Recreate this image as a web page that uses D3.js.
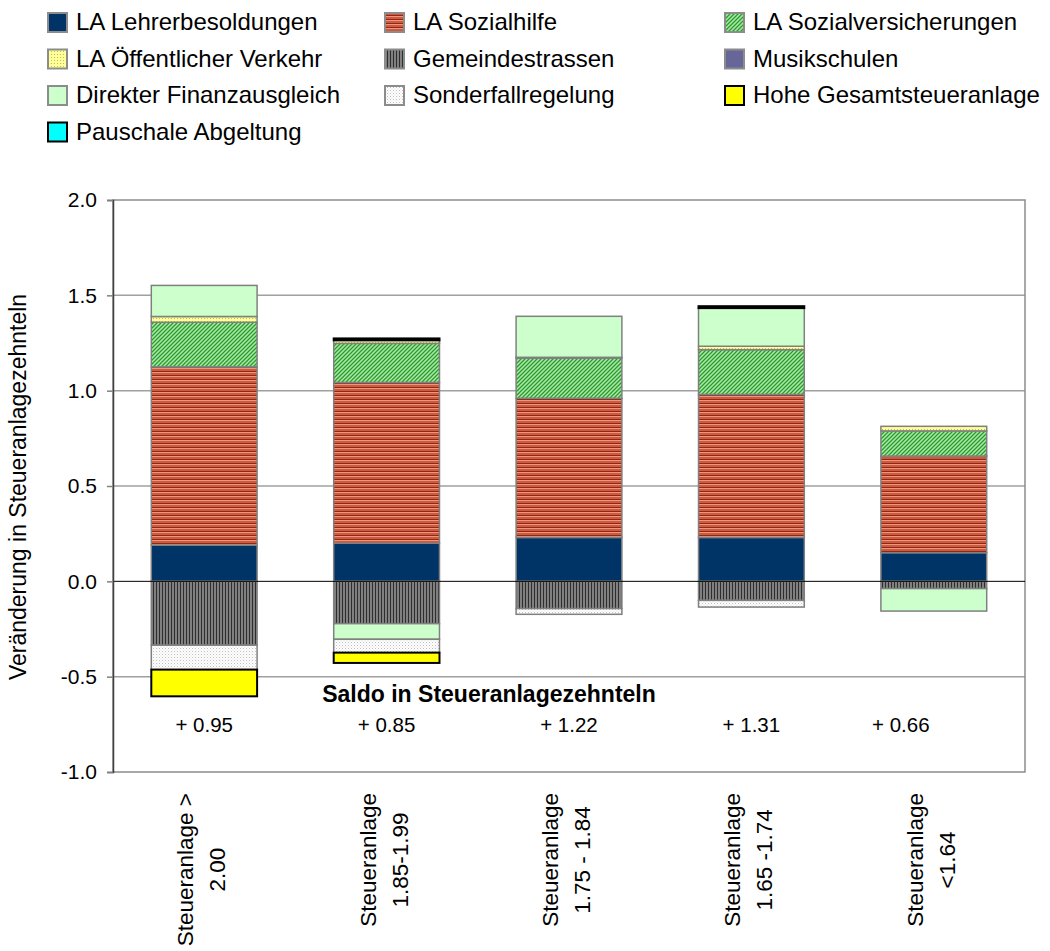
<!DOCTYPE html>
<html>
<head>
<meta charset="utf-8">
<script src="https://cdn.jsdelivr.net/npm/d3@7"></script>
<style>
  html, body { margin: 0; padding: 0; background: #fff; }
  svg { display: block; font-family: "Liberation Sans", Arial, sans-serif; }
</style>
</head>
<body>
<svg id="chart" width="1050" height="951"></svg>
<script>
// Categories (tax rate groups), two text lines each
const categories = ["g1", "g2", "g3", "g4", "g5"];
const categoryLines = [
  ["Steueranlage >", "2.00"],
  ["Steueranlage", "1.85-1.99"],
  ["Steueranlage", "1.75 - 1.84"],
  ["Steueranlage", "1.65 -1.74"],
  ["Steueranlage", "<1.64"]
];

// Component names in stacking order
const seriesNames = [
  "LA Lehrerbesoldungen",
  "LA Sozialhilfe",
  "LA Sozialversicherungen",
  "LA Öffentlicher Verkehr",
  "Gemeindestrassen",
  "Musikschulen",
  "Direkter Finanzausgleich",
  "Sonderfallregelung",
  "Hohe Gesamtsteueranlage",
  "Pauschale Abgeltung"
];

// Change in tenths of the tax rate, per component and group
const lehrer      = [0.19, 0.20, 0.23, 0.23, 0.15];
const sozialhilfe = [0.935, 0.843, 0.73, 0.75, 0.507];
const sozialvers  = [0.234, 0.205, 0.21, 0.235, 0.132];
const oev         = [0.03, 0.016, 0.005, 0.018, 0.024];
const strassen    = [-0.335, -0.222, -0.143, -0.10, -0.038];
const musik       = [0, 0, 0, 0, 0];
const direkt      = [0.163, -0.082, 0.215, 0.20, -0.118];
const sonderfall  = [-0.128, -0.07, -0.03, -0.035, 0];
const hohe        = [-0.14, -0.054, 0, 0, 0];
const pauschale   = [0, 0.01, 0, 0.01, 0];

// Net balance per group
const saldoLabels = ["+ 0.95", "+ 0.85", "+ 1.22", "+ 1.31", "+ 0.66"];

const yTicks = [-1.0, -0.5, 0.0, 0.5, 1.0, 1.5, 2.0];

const seriesValues = [lehrer, sozialhilfe, sozialvers, oev, strassen, musik, direkt, sonderfall, hohe, pauschale];

const svg = d3.select("#chart");
const defs = svg.append("defs");

// Fill patterns
function pattern(id, w, h, draw) {
  const p = defs.append("pattern").attr("id", id)
    .attr("patternUnits", "userSpaceOnUse").attr("width", w).attr("height", h);
  draw(p);
}
pattern("p-sozialhilfe", 4, 4, p => {
  p.append("rect").attr("width", 4).attr("height", 4).attr("fill", "#D0583C");
  p.append("rect").attr("y", 0).attr("width", 4).attr("height", 1).attr("fill", "#E99880");
  p.append("rect").attr("y", 3).attr("width", 4).attr("height", 1).attr("fill", "#8E2818");
});
pattern("p-sozialvers", 4, 4, p => {
  p.append("rect").attr("width", 4).attr("height", 4).attr("fill", "#A8EBA8");
  p.append("path").attr("d", "M-1,1 L1,-1 M0,4 L4,0 M3,5 L5,3")
    .attr("stroke", "#2E9A2E").attr("stroke-width", 1.3);
});
pattern("p-oev", 3, 3, p => {
  p.append("rect").attr("width", 3).attr("height", 3).attr("fill", "#FFFF99");
  p.append("rect").attr("width", 1).attr("height", 1).attr("fill", "#BDBD5A");
});
pattern("p-strassen", 3, 3, p => {
  p.append("rect").attr("width", 3).attr("height", 3).attr("fill", "#808080");
  p.append("rect").attr("width", 1).attr("height", 3).attr("fill", "#2E2E2E");
});
pattern("p-sonderfall", 3, 3, p => {
  p.append("rect").attr("width", 3).attr("height", 3).attr("fill", "#FFFFFF");
  p.append("rect").attr("width", 1).attr("height", 1).attr("fill", "#BEBEBE");
  p.append("rect").attr("x", 1.5).attr("y", 1.5).attr("width", 1).attr("height", 1).attr("fill", "#D8D8D8");
});

const fills = [
  "#003366",
  "url(#p-sozialhilfe)",
  "url(#p-sozialvers)",
  "url(#p-oev)",
  "url(#p-strassen)",
  "#666699",
  "#CCFFCC",
  "url(#p-sonderfall)",
  "#FFFF00",
  "#00FFFF"
];
const strokes = ["#808080", "#808080", "#808080", "#808080", "#808080", "#808080", "#808080", "#808080", "#000000", "#000000"];

// Scales
const x = d3.scaleBand().domain(categories).range([113, 1025]).paddingInner(0.42).paddingOuter(0.21);
const y = d3.scaleLinear().domain([-1, 2]).range([772, 200]);

// Gridlines and plot frame
const grid = svg.append("g");
grid.selectAll("line.grid").data(yTicks.filter(t => t !== 0 && t !== -1 && t !== 2)).join("line")
  .attr("x1", 113).attr("x2", 1025)
  .attr("y1", d => y(d)).attr("y2", d => y(d))
  .attr("stroke", "#A0A0A0").attr("stroke-width", 1.5);
grid.append("rect").attr("x", 113).attr("y", y(2)).attr("width", 1025 - 113).attr("height", y(-1) - y(2))
  .attr("fill", "none").attr("stroke", "#8C8C8C").attr("stroke-width", 1.5);

// Stacked bars
const rows = categories.map((c, i) => {
  const r = { cat: c };
  seriesNames.forEach((s, k) => { r[s] = seriesValues[k][i]; });
  return r;
});
const stacked = d3.stack().keys(seriesNames).offset(d3.stackOffsetDiverging)(rows);

stacked.forEach((layer, k) => {
  svg.append("g").selectAll("rect").data(layer.filter(d => d[1] - d[0] !== 0)).join("rect")
    .attr("x", d => x(d.data.cat))
    .attr("width", x.bandwidth())
    .attr("y", d => y(Math.max(d[0], d[1])))
    .attr("height", d => Math.abs(y(d[0]) - y(d[1])))
    .attr("fill", fills[k])
    .attr("stroke", strokes[k])
    .attr("stroke-width", strokes[k] === "#000000" ? 2 : 1.5);
});

// Zero line
svg.append("line").attr("x1", 113).attr("x2", 1025).attr("y1", y(0)).attr("y2", y(0))
  .attr("stroke", "#000").attr("stroke-width", 1);

// Y axis
const fmt = d3.format(".1f");
const yAxis = svg.append("g").attr("transform", "translate(113,0)")
  .call(d3.axisLeft(y).tickValues(yTicks).tickFormat(d => fmt(d).replace("\u2212", "-")).tickSize(6).tickPadding(10));
yAxis.select(".domain").attr("stroke", "#404040").attr("stroke-width", 1.5);
yAxis.selectAll(".tick line").attr("stroke", "#808080").attr("stroke-width", 1.5);
yAxis.selectAll(".tick text").attr("font-size", 21).attr("fill", "#000")
  .attr("font-family", "Liberation Sans, Arial, sans-serif");

svg.append("text")
  .attr("transform", "translate(26,487) rotate(-90)")
  .attr("text-anchor", "middle")
  .attr("font-size", 23)
  .text("Veränderung in Steueranlagezehnteln");

// Category labels, rotated, block top aligned just under the axis
categories.forEach((c, i) => {
  const cx = x(c) + x.bandwidth() / 2;
  const g = svg.append("g");
  const lines = categoryLines[i];
  const texts = lines.map((t, j) => g.append("text")
    .attr("text-anchor", "middle")
    .attr("font-size", 22.5)
    .attr("transform", `translate(${cx - 11 + j * 32},0) rotate(-90)`)
    .text(t));
  const maxLen = d3.max(texts, t => t.node().getComputedTextLength());
  const midY = 793 + maxLen / 2;
  texts.forEach((t, j) => t.attr("transform", `translate(${cx - 11 + j * 32},${midY}) rotate(-90)`));
});

// Net balance
svg.append("text").attr("x", 489).attr("y", 702).attr("text-anchor", "middle")
  .attr("font-size", 23).attr("font-weight", "bold")
  .text("Saldo in Steueranlagezehnteln");
const saldoShift = [0, 0, 0, 0, -33];
svg.append("g").selectAll("text").data(saldoLabels).join("text")
  .attr("x", (d, i) => x(categories[i]) + x.bandwidth() / 2 + saldoShift[i])
  .attr("y", 732)
  .attr("text-anchor", "middle")
  .attr("font-size", 20.5)
  .text(d => d);

// Legend: three columns
const legendCols = [48, 385, 725];
const legendRowY = [30, 66.5, 103, 139.5];
const legend = svg.append("g");
seriesNames.forEach((name, k) => {
  const col = k % 3, row = Math.floor(k / 3);
  const lx = legendCols[col], ly = legendRowY[row];
  legend.append("rect").attr("x", lx).attr("y", ly - 17).attr("width", 19).attr("height", 19)
    .attr("fill", fills[k]).attr("stroke", strokes[k] === "#000000" ? "#000" : "#8C8C8C").attr("stroke-width", 2);
  legend.append("text").attr("x", lx + 28).attr("y", ly).attr("font-size", 24).text(name);
});
</script>
</body>
</html>
